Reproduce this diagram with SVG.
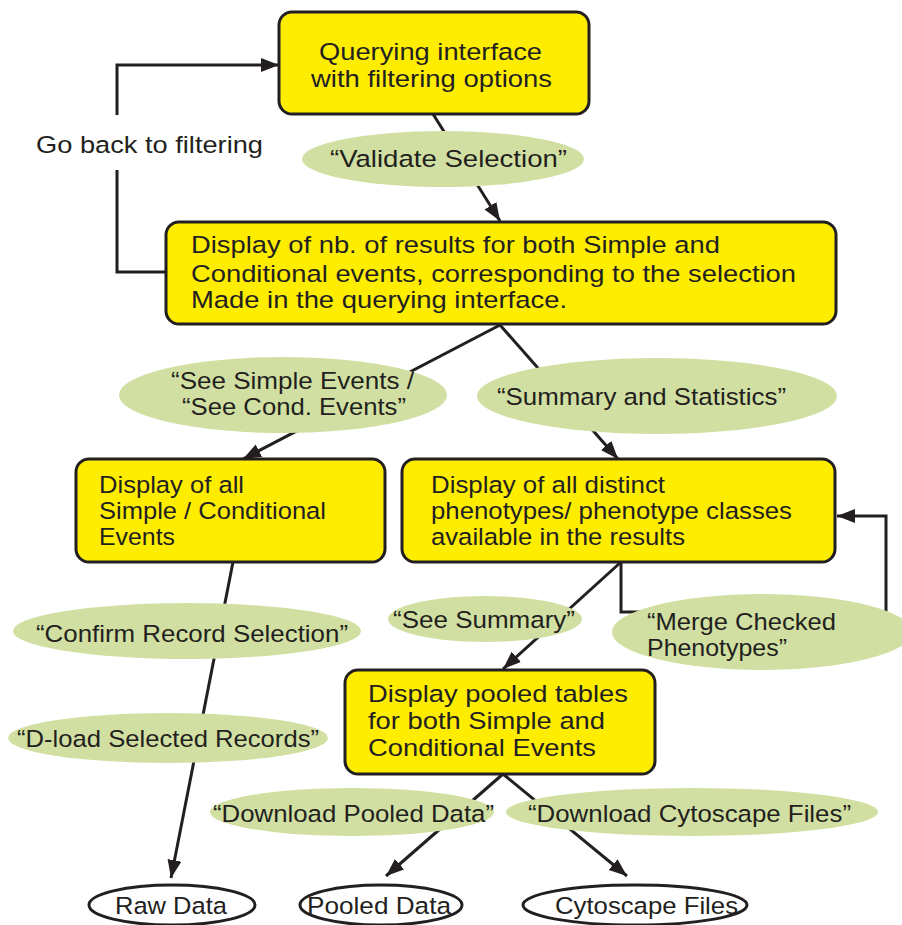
<svg xmlns="http://www.w3.org/2000/svg" width="902" height="925" viewBox="0 0 902 925">
<style>
.box{fill:#FFED00;stroke:#231F20;stroke-width:3}
.lbl{fill:#D1E0A2;stroke:none}
.end{fill:#FFFFFF;stroke:#231F20;stroke-width:3}
.con{fill:none;stroke:#231F20;stroke-width:3}
text{font-family:"Liberation Sans",Arial,sans-serif;font-size:24.5px;fill:#231F20}
</style>
<defs>
<marker id="ah" markerUnits="userSpaceOnUse" markerWidth="20" markerHeight="16" refX="18" refY="7" orient="auto">
<path d="M0,0 L18,7 L0,14 z" fill="#231F20"/>
</marker>
</defs>
<g id="connectors">
<path class="con" d="M166,272 H117 V170"/>
<path class="con" d="M117,115 V65 H279" marker-end="url(#ah)"/>
<path class="con" d="M433,114 L500,221" marker-end="url(#ah)"/>
<path class="con" d="M500,325 L243,459" marker-end="url(#ah)"/>
<path class="con" d="M500,325 L618,459" marker-end="url(#ah)"/>
<path class="con" d="M233,562 L171,878" marker-end="url(#ah)"/>
<path class="con" d="M621,562 L503,669" marker-end="url(#ah)"/>
<path class="con" d="M621,562 V612 H886 V516 H837" marker-end="url(#ah)"/>
<path class="con" d="M503,774 L386,876" marker-end="url(#ah)"/>
<path class="con" d="M503,774 L627,876" marker-end="url(#ah)"/>
</g>
<g id="goback">
<text x="36" y="153" textLength="227" lengthAdjust="spacingAndGlyphs">Go back to filtering</text>
</g>
<g id="query">
<rect class="box" x="279" y="12" width="310" height="102" rx="13"/>
<text x="319" y="60" textLength="223" lengthAdjust="spacingAndGlyphs">Querying interface</text>
<text x="311" y="87" textLength="241" lengthAdjust="spacingAndGlyphs">with filtering options</text>
</g>
<g id="validate">
<ellipse class="lbl" cx="443" cy="159" rx="141" ry="28"/>
<text x="330" y="167" textLength="237" lengthAdjust="spacingAndGlyphs">“Validate Selection”</text>
</g>
<g id="results">
<rect class="box" x="166" y="222" width="670" height="102" rx="13"/>
<text x="191" y="253" textLength="529" lengthAdjust="spacingAndGlyphs">Display of nb. of results for both Simple and</text>
<text x="191" y="282" textLength="605" lengthAdjust="spacingAndGlyphs">Conditional events, corresponding to the selection</text>
<text x="191" y="308" textLength="376" lengthAdjust="spacingAndGlyphs">Made in the querying interface.</text>
</g>
<g id="seeevents">
<ellipse class="lbl" cx="283" cy="395" rx="164" ry="38"/>
<text x="171" y="389" textLength="243" lengthAdjust="spacingAndGlyphs">“See Simple Events /</text>
<text x="182" y="415" textLength="224" lengthAdjust="spacingAndGlyphs">“See Cond. Events”</text>
</g>
<g id="summarystats">
<ellipse class="lbl" cx="657" cy="396" rx="180" ry="38"/>
<text x="497" y="405" textLength="289" lengthAdjust="spacingAndGlyphs">“Summary and Statistics”</text>
</g>
<g id="allevents">
<rect class="box" x="76" y="459" width="309" height="103" rx="13"/>
<text x="99" y="493" textLength="145" lengthAdjust="spacingAndGlyphs">Display of all</text>
<text x="99" y="519" textLength="227" lengthAdjust="spacingAndGlyphs">Simple / Conditional</text>
<text x="99" y="545" textLength="76" lengthAdjust="spacingAndGlyphs">Events</text>
</g>
<g id="phenotypes">
<rect class="box" x="402" y="459" width="433" height="103" rx="13"/>
<text x="431" y="493" textLength="234" lengthAdjust="spacingAndGlyphs">Display of all distinct</text>
<text x="431" y="519" textLength="361" lengthAdjust="spacingAndGlyphs">phenotypes/ phenotype classes</text>
<text x="431" y="545" textLength="254" lengthAdjust="spacingAndGlyphs">available in the results</text>
</g>
<g id="confirm">
<ellipse class="lbl" cx="187" cy="631" rx="174" ry="28"/>
<text x="36" y="642" textLength="312" lengthAdjust="spacingAndGlyphs">“Confirm Record Selection”</text>
</g>
<g id="seesummary">
<ellipse class="lbl" cx="485" cy="619" rx="97" ry="23"/>
<text x="393" y="628" textLength="182" lengthAdjust="spacingAndGlyphs">“See Summary”</text>
</g>
<g id="merge">
<ellipse class="lbl" cx="762" cy="632" rx="150" ry="38"/>
<text x="647" y="630" textLength="189" lengthAdjust="spacingAndGlyphs">“Merge Checked</text>
<text x="647" y="656" textLength="140" lengthAdjust="spacingAndGlyphs">Phenotypes”</text>
</g>
<g id="dload">
<ellipse class="lbl" cx="168" cy="738" rx="160" ry="25"/>
<text x="17" y="747" textLength="302" lengthAdjust="spacingAndGlyphs">“D-load Selected Records”</text>
</g>
<g id="pooled">
<rect class="box" x="345" y="670" width="310" height="104" rx="13"/>
<text x="368" y="702" textLength="260" lengthAdjust="spacingAndGlyphs">Display pooled tables</text>
<text x="368" y="729" textLength="237" lengthAdjust="spacingAndGlyphs">for both Simple and</text>
<text x="368" y="756" textLength="228" lengthAdjust="spacingAndGlyphs">Conditional Events</text>
</g>
<g id="dlpooled">
<ellipse class="lbl" cx="352" cy="812" rx="142" ry="24"/>
<text x="213" y="822" textLength="281" lengthAdjust="spacingAndGlyphs">“Download Pooled Data”</text>
</g>
<g id="dlcyto">
<ellipse class="lbl" cx="692" cy="812" rx="186" ry="24"/>
<text x="528" y="822" textLength="323" lengthAdjust="spacingAndGlyphs">“Download Cytoscape Files”</text>
</g>
<g id="rawdata">
<ellipse class="end" cx="172" cy="905" rx="83" ry="20"/>
<text x="115" y="914" textLength="112" lengthAdjust="spacingAndGlyphs">Raw Data</text>
</g>
<g id="pooleddata">
<ellipse class="end" cx="381" cy="905" rx="81" ry="20"/>
<text x="307" y="914" textLength="144" lengthAdjust="spacingAndGlyphs">Pooled Data</text>
</g>
<g id="cytofiles">
<ellipse class="end" cx="635" cy="905" rx="112" ry="20"/>
<text x="555" y="914" textLength="183" lengthAdjust="spacingAndGlyphs">Cytoscape Files</text>
</g>
</svg>
